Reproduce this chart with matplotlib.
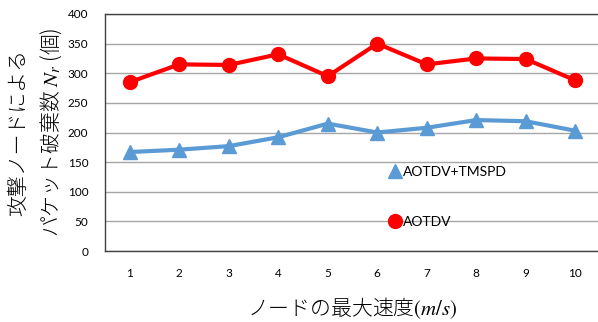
import matplotlib.pyplot as plt
from matplotlib.lines import Line2D

plt.rcParams['font.family'] = ['Lato', 'Noto Sans CJK JP', 'DejaVu Sans']
plt.rcParams['mathtext.fontset'] = 'stix'

speeds = [1, 2, 3, 4, 5, 6, 7, 8, 9, 10]
aotdv = [285, 315, 314, 332, 295, 350, 315, 325, 324, 288]
aotdv_tmspd = [167, 171, 177, 192, 215, 200, 208, 221, 219, 203]

red = '#FF0000'
blue = '#5B9BD5'

fig = plt.figure(figsize=(5.98, 3.22), dpi=100)
W, H = 598, 322
ax = fig.add_axes([105 / W, (H - 251) / H, 495 / W, 237 / H])

ax.plot(speeds, aotdv, color=red, lw=3, marker='o', ms=10, label='AOTDV', zorder=3)
ax.plot(speeds, aotdv_tmspd, color=blue, lw=3, marker='^', ms=10.5,
        label='AOTDV+TMSPD', zorder=3)

ax.set_xlim(0.5, 10.5)
ax.set_ylim(0, 400)
ax.set_xticks(speeds)
ax.set_yticks(range(0, 401, 50))
ax.tick_params(axis='both', length=0, labelsize=8.5, colors='#000000')
ax.tick_params(axis='x', pad=12)
ax.tick_params(axis='y', pad=12)
ax.yaxis.grid(True, color='#A6A6A6', lw=1)
ax.set_axisbelow(True)
for side in ['left', 'bottom', 'top']:
    ax.spines[side].set_color('#404040')
    ax.spines[side].set_linewidth(1)
ax.spines['right'].set_visible(False)

jp = ['Noto Sans CJK JP', 'DejaVu Sans']
ax.set_ylabel('攻撃ノードによる\nパケット破棄数 $N_r$ (個)', fontsize=15,
              family=jp, fontweight='light', labelpad=3, linespacing=1.45)
ax.set_xlabel('ノードの最大速度$(m/s)$', fontsize=15,
              family=jp, fontweight='light', labelpad=12)

handles = [
    Line2D([], [], color=blue, marker='^', ms=10, ls='none'),
    Line2D([], [], color=red, marker='o', ms=10, ls='none'),
]
ax.legend(handles, ['AOTDV+TMSPD', 'AOTDV'], loc='upper left',
          bbox_to_anchor=(389 / W, (H - 166) / H), bbox_transform=fig.transFigure,
          frameon=False, fontsize=10, handlelength=0.8, handletextpad=0.2,
          labelspacing=2.75, borderpad=0, borderaxespad=0)

fig.savefig('out.png', dpi=100)
